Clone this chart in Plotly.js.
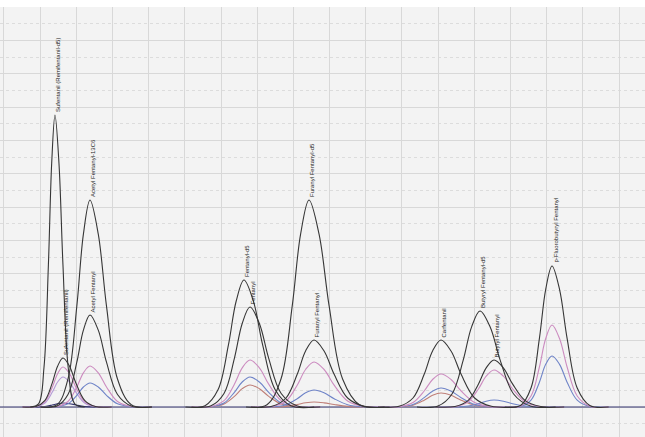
<!DOCTYPE html>
<html>
<head>
<meta charset="utf-8">
<script src="https://cdn.plot.ly/plotly-3.0.1.min.js"></script>
<style>
html,body{margin:0;padding:0;background:#fff;}
#chart{width:645px;height:437px;}
</style>
</head>
<body>
<div id="chart"></div>
<script>
// ---- Data (x: retention time in grid units, y: intensity in grid units) ----
const tSufD5   = [0.731, 0.959, 1.110, 1.232, 1.323, 1.414, 1.524, 1.634, 1.779, 1.961, 2.235];
const ySufD5   = [0, 0.19, 2.37, 8.53, 14.63, 17.52, 14.63, 8.53, 2.37, 0.19, 0];

const tSufRemi   = [0.517, 0.890, 1.138, 1.337, 1.486, 1.635, 1.815, 1.994, 2.233, 2.530, 2.978];
const ySufRemi   = [0, 0.03, 0.40, 1.43, 2.45, 2.94, 2.45, 1.43, 0.40, 0.03, 0];
const ySufRemiQ1 = [0, 0.03, 0.32, 1.17, 2.00, 2.40, 2.00, 1.17, 0.32, 0.03, 0];
const ySufRemiQ2 = [0, 0.02, 0.24, 0.88, 1.50, 1.80, 1.50, 0.88, 0.24, 0.02, 0];
const ySufRemiQ3 = [0, 0, 0.03, 0.12, 0.20, 0.24, 0.20, 0.12, 0.03, 0, 0];

const tAcetyl     = [1.014, 1.470, 1.773, 2.017, 2.199, 2.381, 2.610, 2.837, 3.141, 3.521, 4.091];
const yAcetylC13  = [0, 0.14, 1.68, 6.05, 10.37, 12.42, 10.37, 6.05, 1.68, 0.14, 0];
const yAcetyl     = [0, 0.06, 0.75, 2.69, 4.61, 5.52, 4.61, 2.69, 0.75, 0.06, 0];
const yAcetylQ1   = [0, 0.03, 0.33, 1.20, 2.05, 2.46, 2.05, 1.20, 0.33, 0.03, 0];
const yAcetylQ2   = [0, 0.02, 0.19, 0.70, 1.20, 1.44, 1.20, 0.70, 0.19, 0.02, 0];

const tFentD5 = [5.019, 5.558, 5.917, 6.204, 6.420, 6.635, 6.894, 7.152, 7.498, 7.929, 8.574];
const yFentD5 = [0, 0.08, 1.03, 3.71, 6.36, 7.62, 6.36, 3.71, 1.03, 0.08, 0];

const tFent   = [5.185, 5.724, 6.083, 6.370, 6.586, 6.801, 7.060, 7.318, 7.663, 8.093, 8.740];
const yFent   = [0, 0.07, 0.81, 2.92, 5.01, 6.00, 5.01, 2.92, 0.81, 0.07, 0];
const yFentQ1 = [0, 0.03, 0.38, 1.37, 2.35, 2.82, 2.35, 1.37, 0.38, 0.03, 0];
const yFentQ2 = [0, 0.02, 0.24, 0.88, 1.50, 1.80, 1.50, 0.88, 0.24, 0.02, 0];
const yFentQ3 = [0, 0.01, 0.18, 0.64, 1.10, 1.32, 1.10, 0.64, 0.18, 0.01, 0];

const tFurD5 = [6.691, 7.271, 7.657, 7.967, 8.199, 8.431, 8.709, 8.988, 9.359, 9.823, 10.519];
const yFurD5 = [0, 0.14, 1.68, 6.05, 10.37, 12.42, 10.37, 6.05, 1.68, 0.14, 0];

const tFur   = [6.829, 7.409, 7.796, 8.105, 8.337, 8.569, 8.847, 9.126, 9.498, 9.961, 10.657];
const yFur   = [0, 0.04, 0.54, 1.96, 3.36, 4.02, 3.36, 1.96, 0.54, 0.04, 0];
const yFurQ1 = [0, 0.03, 0.36, 1.31, 2.25, 2.70, 2.25, 1.31, 0.36, 0.03, 0];
const yFurQ2 = [0, 0.01, 0.14, 0.50, 0.85, 1.02, 0.85, 0.50, 0.14, 0.01, 0];
const yFurQ3 = [0, 0, 0.04, 0.15, 0.25, 0.30, 0.25, 0.15, 0.04, 0, 0];

const tCarf   = [10.337, 10.917, 11.304, 11.613, 11.845, 12.077, 12.355, 12.634, 13.006, 13.470, 14.166];
const yCarf   = [0, 0.04, 0.54, 1.96, 3.36, 4.02, 3.36, 1.96, 0.54, 0.04, 0];
const yCarfQ1 = [0, 0.02, 0.27, 0.96, 1.65, 1.98, 1.65, 0.96, 0.27, 0.02, 0];
const yCarfQ2 = [0, 0.01, 0.15, 0.56, 0.95, 1.14, 0.95, 0.56, 0.15, 0.01, 0];
const yCarfQ3 = [0, 0.01, 0.11, 0.41, 0.70, 0.84, 0.70, 0.41, 0.11, 0.01, 0];

const tButD5 = [11.414, 11.994, 12.381, 12.691, 12.923, 13.155, 13.433, 13.712, 14.083, 14.547, 15.243];
const yButD5 = [0, 0.06, 0.78, 2.81, 4.81, 5.76, 4.81, 2.81, 0.78, 0.06, 0];

const tBut   = [11.925, 12.464, 12.823, 13.110, 13.326, 13.541, 13.800, 14.058, 14.404, 14.835, 15.480];
const yBut   = [0, 0.03, 0.38, 1.37, 2.35, 2.82, 2.35, 1.37, 0.38, 0.03, 0];
const yButQ1 = [0, 0.02, 0.30, 1.08, 1.85, 2.22, 1.85, 1.08, 0.30, 0.02, 0];
const yButQ2 = [0, 0, 0.06, 0.20, 0.35, 0.42, 0.35, 0.20, 0.06, 0, 0];

const tLast   = [13.838, 14.273, 14.564, 14.796, 14.970, 15.144, 15.352, 15.561, 15.840, 16.188, 16.710];
const yLast   = [0, 0.09, 1.14, 4.12, 7.06, 8.46, 7.06, 4.12, 1.14, 0.09, 0];
const yLastQ1 = [0, 0.05, 0.66, 2.40, 4.11, 4.92, 4.11, 2.40, 0.66, 0.05, 0];
const yLastQ2 = [0, 0.03, 0.41, 1.49, 2.56, 3.06, 2.56, 1.49, 0.41, 0.03, 0];

const tBaseline = [-0.105, 17.713];
const yBaseline = [0, 0];

const labelNames = [
  "Sufentanil (Remifentanil-d5)", "Sufentanil (Remifentanil)",
  "Acetyl Fentanyl-13C6", "Acetyl Fentanyl",
  "Fentanyl-d5", "Fentanyl",
  "Furanyl Fentanyl-d5", "Furanyl Fentanyl",
  "Carfentanil", "Butyryl Fentanyl-d5", "Butyryl Fentanyl",
  "p-Fluorobutyryl Fentanyl"
];

// ---- Styles ----
const C = {
  quant: '#363636',
  pink: '#cc8cc0',
  lav: '#b49ad6',
  blue: '#6f84c8',
  red: '#bf7f78',
  navy: '#33336e'
};

const series = [
  [tBaseline, yBaseline, C.navy],
  [tSufRemi, ySufRemiQ3, C.navy],
  [tSufRemi, ySufRemiQ2, C.lav],
  [tSufRemi, ySufRemiQ1, C.pink],
  [tAcetyl, yAcetylQ2, C.blue],
  [tAcetyl, yAcetylQ1, C.pink],
  [tFent, yFentQ3, C.red],
  [tFent, yFentQ2, C.blue],
  [tFent, yFentQ1, C.pink],
  [tFur, yFurQ3, C.red],
  [tFur, yFurQ2, C.blue],
  [tFur, yFurQ1, C.pink],
  [tCarf, yCarfQ3, C.red],
  [tCarf, yCarfQ2, C.blue],
  [tCarf, yCarfQ1, C.pink],
  [tBut, yButQ2, C.blue],
  [tBut, yButQ1, C.pink],
  [tLast, yLastQ2, C.blue],
  [tLast, yLastQ1, C.pink],
  [tSufD5, ySufD5, C.quant],
  [tSufRemi, ySufRemi, C.quant],
  [tAcetyl, yAcetylC13, C.quant],
  [tAcetyl, yAcetyl, C.quant],
  [tFentD5, yFentD5, C.quant],
  [tFent, yFent, C.quant],
  [tFurD5, yFurD5, C.quant],
  [tFur, yFur, C.quant],
  [tCarf, yCarf, C.quant],
  [tButD5, yButD5, C.quant],
  [tBut, yBut, C.quant],
  [tLast, yLast, C.quant]
];

const traces = series.map(s => ({
  type: 'scatter', mode: 'lines', x: s[0], y: s[1],
  line: {color: s[2], width: 1.1, shape: 'spline', smoothing: 1},
  hoverinfo: 'skip', showlegend: false
}));

const labelSources = [
  [tSufD5, ySufD5], [tSufRemi, ySufRemi],
  [tAcetyl, yAcetylC13], [tAcetyl, yAcetyl],
  [tFentD5, yFentD5], [tFent, yFent],
  [tFurD5, yFurD5], [tFur, yFur],
  [tCarf, yCarf], [tButD5, yButD5], [tBut, yBut],
  [tLast, yLast]
];

const annotations = labelSources.map((src, i) => {
  const ys = src[1];
  let k = 0;
  ys.forEach((v, j) => { if (v > ys[k]) k = j; });
  return {
    x: src[0][k], y: ys[k], xref: 'x', yref: 'y',
    text: labelNames[i], showarrow: false, textangle: -90,
    xanchor: 'center', yanchor: 'bottom', xshift: 3, yshift: 1,
    font: {family: 'Liberation Sans, Arial, sans-serif', size: 6, color: '#262626'}
  };
});

const layout = {
  width: 645, height: 437,
  margin: {l: 0, r: 0, t: 7, b: 0, pad: 0},
  paper_bgcolor: '#ffffff',
  plot_bgcolor: '#f3f3f3',
  showlegend: false,
  xaxis: {
    range: [-0.105, 17.713], tick0: 0, dtick: 1,
    showgrid: true, gridcolor: '#d8d8d8', gridwidth: 1,
    showticklabels: false, ticks: '', zeroline: false, showline: false,
    fixedrange: true
  },
  yaxis: {
    range: [-1.8, 24.0], tick0: 0, dtick: 2,
    showgrid: true, gridcolor: '#d8d8d8', gridwidth: 1,
    minor: {dtick: 1, showgrid: true, gridcolor: '#dcdcdc', griddash: 'dot', gridwidth: 1},
    showticklabels: false, ticks: '', zeroline: false, showline: false,
    fixedrange: true
  },
  annotations: annotations
};

Plotly.newPlot('chart', traces, layout, {displayModeBar: false, staticPlot: true});
</script>
</body>
</html>
